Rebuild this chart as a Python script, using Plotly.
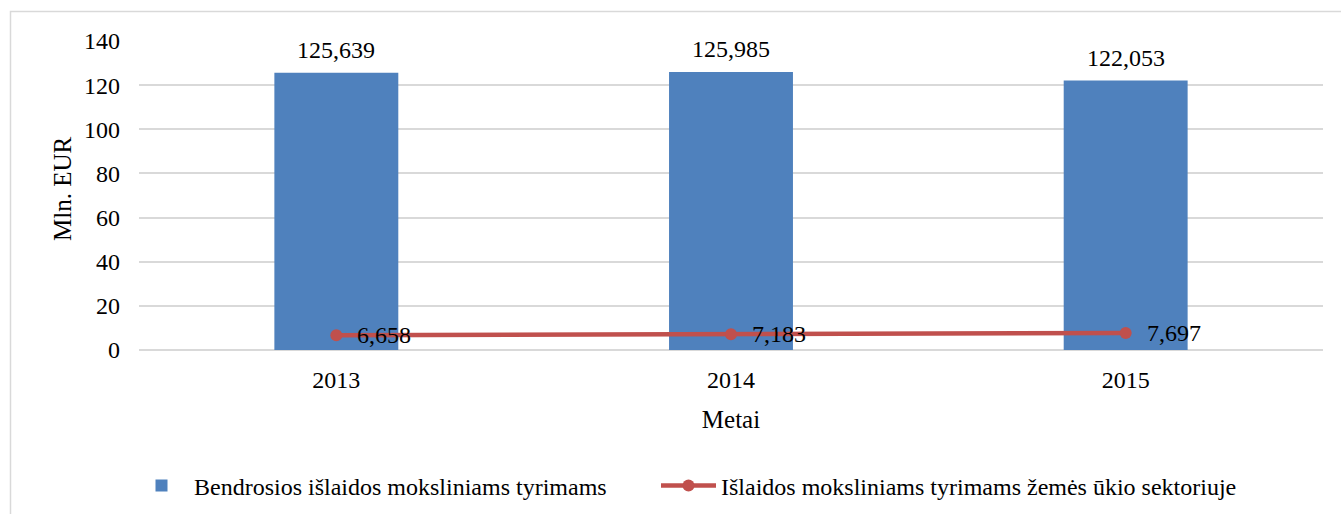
import plotly.graph_objects as go

# Research expenditure, million EUR
years = ["2013", "2014", "2015"]
total_rd = [125.639, 125.985, 122.053]
agri_rd = [6.658, 7.183, 7.697]

bar_name = "Bendrosios išlaidos moksliniams tyrimams"
line_name = "Išlaidos moksliniams tyrimams žemės ūkio sektoriuje"
x_title = "Metai"
y_title = "Mln. EUR"

BLUE = "#4F81BD"
RED = "#C0504D"
GRID = "#D9D9D9"
FONT = "Liberation Serif, Times New Roman, serif"
FS = 24

# plot area in pixels (left, width, bottom, height)
PLOT_L, PLOT_W, PLOT_B, PLOT_H = 139, 1184, 350, 309


def lt(v):
    return f"{v:.3f}".replace(".", ",")


def px_x(p):
    return (p - PLOT_L) / PLOT_W


def px_y(p):
    return (PLOT_B - p) / PLOT_H


fig = go.Figure()
fig.add_trace(go.Bar(x=years, y=total_rd, name=bar_name, marker_color=BLUE,
                     marker_line_width=0, legend="legend"))
fig.add_trace(go.Scatter(x=years, y=agri_rd, name=line_name, mode="lines+markers",
                         line=dict(color=RED, width=4.5),
                         marker=dict(color=RED, size=12), legend="legend2"))

# value labels; on a category axis annotations are placed by category index
annotations = []
for i, v in enumerate(total_rd):
    annotations.append(dict(x=i, y=v, text=lt(v), showarrow=False, xanchor="center",
                            yanchor="middle", yshift=23,
                            font=dict(family=FONT, size=FS, color="#000")))
for i, v in enumerate(agri_rd):
    annotations.append(dict(x=i, y=v, text=lt(v), showarrow=False, xanchor="left",
                            yanchor="middle", xshift=19,
                            font=dict(family=FONT, size=FS, color="#000")))

# vertical axis title, set slightly above the middle of the value axis
annotations.append(dict(xref="paper", yref="paper", x=px_x(62), y=px_y(189),
                        text=y_title, textangle=-90, showarrow=False,
                        xanchor="center", yanchor="middle",
                        font=dict(family=FONT, size=25, color="#000")))

# outer frame of the chart area
frame = dict(type="rect", xref="paper", yref="paper",
             x0=px_x(10.5), x1=1.2, y0=-0.7, y1=px_y(11.5),
             line=dict(color=GRID, width=1.5), fillcolor="rgba(0,0,0,0)", layer="below")

legend_style = dict(orientation="h", yanchor="middle", y=px_y(486), xanchor="left",
                    font=dict(family=FONT, size=FS, color="#000"), itemwidth=55,
                    bgcolor="rgba(0,0,0,0)")

fig.update_layout(
    width=1341, height=514,
    margin=dict(l=PLOT_L, r=1341 - PLOT_L - PLOT_W, t=PLOT_B - PLOT_H, b=514 - PLOT_B,
                autoexpand=False),
    paper_bgcolor="white", plot_bgcolor="white",
    font=dict(family=FONT, size=FS, color="#000"),
    bargap=0.686,
    showlegend=True,
    legend=dict(legend_style, x=px_x(129)),
    legend2=dict(legend_style, x=px_x(656)),
    annotations=annotations,
    shapes=[frame],
    xaxis=dict(type="category", range=[-0.5, 2.5],
               title=dict(text=x_title, standoff=18, font=dict(size=25)),
               showgrid=False, showline=False, ticks="", ticklabelstandoff=13,
               tickfont=dict(size=FS)),
    yaxis=dict(range=[0, 140], dtick=20, showgrid=True, gridcolor=GRID, gridwidth=1.5,
               zeroline=True, zerolinecolor=GRID, zerolinewidth=1.5,
               showline=False, ticks="", ticklabelstandoff=18, tickfont=dict(size=FS)),
)

fig.write_html("out.html")
